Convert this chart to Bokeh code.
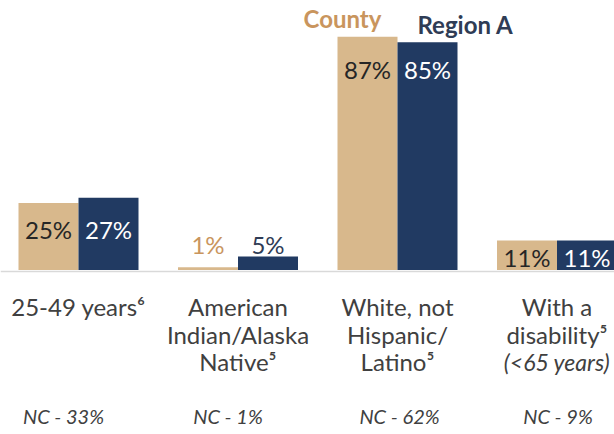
from bokeh.plotting import figure
from bokeh.models import Range1d
from bokeh.core.properties import value
from bokeh.embed import file_html
from bokeh.resources import INLINE

# ---- data ----
categories = ["25-49 years", "American Indian/Alaska Native",
              "White, not Hispanic/Latino", "With a disability (<65 years)"]
label_lines = [["25-49 years\u2076"],
               ["American", "Indian/Alaska", "Native\u2075"],
               ["White, not", "Hispanic/", "Latino\u2075"],
               ["With a", "disability\u2075"]]
italic_lines = [None, None, None, "(<65 years)"]
county = [25, 1, 87, 11]
region = [27, 5, 85, 11]
nc = [33, 1, 62, 9]
series_names = ["County", "Region A"]

# ---- style ----
TAN = "#D8B88C"
TAN_TXT = "#C9955D"
NAVY = "#213A62"
NAVY_TXT = "#2F3C55"
DARK = "#262626"
GRAY_TXT = "#404040"
FONT = "Lato"
NC_SHIFT_PX = [-15, -10, 2, 1]   # horizontal nudges of the NC notes (style)

W, H = 614, 434
PX_PER_GROUP = 159.5
PX_PER_PCT = 2.68
BASE_PX = 269.5


def xd(px):
    return (px - 78) / PX_PER_GROUP


def yd(py):
    return (BASE_PX - py) / PX_PER_PCT


p = figure(width=W, height=H, output_backend="svg", toolbar_location=None,
           x_range=Range1d(xd(0), xd(W)), y_range=Range1d(yd(H), yd(0)),
           min_border=0, outline_line_color=None)
p.axis.visible = False
p.grid.visible = False
p.background_fill_color = "white"
p.border_fill_color = "white"

n = len(categories)
idx = list(range(n))
bw = 60 / PX_PER_GROUP
off = bw / 2

p.vbar(x=[i - off for i in idx], top=county, width=bw, bottom=0,
       fill_color=TAN, line_color=None)
p.vbar(x=[i + off for i in idx], top=region, width=bw, bottom=0,
       fill_color=NAVY, line_color=None)

# baseline
p.segment(x0=[xd(0)], y0=[yd(271)], x1=[xd(W)], y1=[yd(271)],
          line_color="#D9D9D9", line_width=1.5)

# value labels
lx, ly, lt, lc = [], [], [], []
for i in idx:
    c, r = county[i], region[i]
    lo, hi = min(c, r), max(c, r)
    for j, v in enumerate((c, r)):
        if v >= 8:
            y = max(lo - 10, lo * 0.42)
            col = DARK if j == 0 else "white"
        else:
            y = hi + 4.5
            col = TAN_TXT if j == 0 else NAVY_TXT
        lx.append(i - off if j == 0 else i + off)
        ly.append(y)
        lt.append(f"{v}%")
        lc.append(col)
p.text(x=lx, y=ly, text=lt, text_color=lc, text_align="center",
       text_baseline="middle", text_font=value(FONT), text_font_size="24px")

# category labels (line centres)
line_mid = [yd(306), yd(334), yd(361)]
cx, cy, ct = [], [], []
for i in idx:
    for k, t in enumerate(label_lines[i]):
        cx.append(i)
        cy.append(line_mid[k])
        ct.append(t)
p.text(x=cx, y=cy, text=ct, text_color=GRAY_TXT, text_align="center",
       text_baseline="middle", text_font=value(FONT), text_font_size="24px")
ix = [i for i in idx if italic_lines[i]]
p.text(x=ix, y=[line_mid[2]] * len(ix), text=[italic_lines[i] for i in ix],
       text_color=GRAY_TXT, text_align="center", text_baseline="middle",
       text_font=value(FONT), text_font_size="23px", text_font_style="italic")

# NC labels
for i in idx:
    p.text(x=[i], y=[yd(415)], text=[f"NC - {nc[i]}%"], x_offset=NC_SHIFT_PX[i],
           text_color=GRAY_TXT, text_align="center", text_baseline="middle",
           text_font=value(FONT), text_font_size="20px", text_font_style="italic")

# legend texts
p.text(x=[xd(342)], y=[yd(18)], text=[series_names[0]], text_color=TAN_TXT,
       text_align="center", text_baseline="middle", text_font=value(FONT),
       text_font_size="24px", text_font_style="bold")
p.text(x=[xd(465)], y=[yd(24)], text=[series_names[1]], text_color=NAVY_TXT,
       text_align="center", text_baseline="middle", text_font=value(FONT),
       text_font_size="24px", text_font_style="bold")

open("out.html", "w").write(file_html(p, INLINE))
